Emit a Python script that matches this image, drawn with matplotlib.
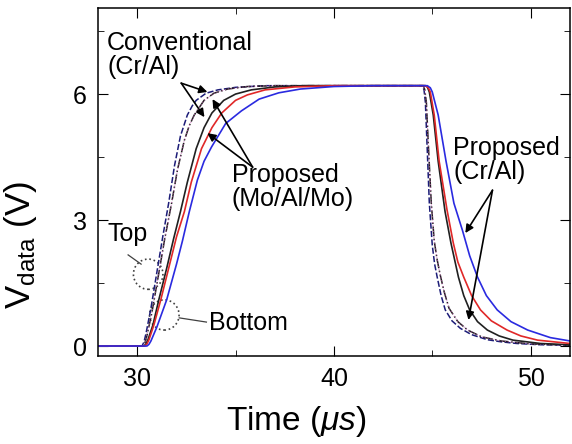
import matplotlib
matplotlib.use("Agg")
import matplotlib.pyplot as plt
from matplotlib.patches import Ellipse
from matplotlib.ticker import MultipleLocator

plt.rcParams['font.family'] = ['Liberation Sans', 'DejaVu Sans']
plt.rcParams['mathtext.fontset'] = 'custom'
plt.rcParams['mathtext.rm'] = 'Liberation Sans'
plt.rcParams['mathtext.it'] = 'Liberation Sans:italic'

# Conventional (Cr/Al), top
conv_top_t = [28, 30.25, 30.35, 30.45, 30.7, 31.0, 31.3, 31.6, 31.9, 32.2, 32.55, 32.8, 33.0, 33.5, 34.1, 35.0, 36.5,
              44.5, 44.58, 44.65, 44.75, 44.85, 45.0, 45.12, 45.25, 45.45, 45.66, 46.0, 46.43, 47.0, 47.8, 48.5, 49.3, 50.5, 52]
conv_top_v = [0, 0, 0.1, 0.3, 0.9, 1.75, 2.6, 3.4, 4.3, 5.0, 5.5, 5.72, 5.85, 6.02, 6.1, 6.16, 6.2,
              6.2, 6.1, 5.8, 4.6, 3.4, 2.4, 1.95, 1.64, 1.2, 0.86, 0.6, 0.42, 0.27, 0.15, 0.1, 0.06, 0.03, 0.02]

# Conventional (Cr/Al), bottom
conv_bot_t = [28, 30.3, 30.4, 30.5, 30.75, 31.05, 31.4, 31.75, 32.05, 32.4, 32.65, 32.9, 33.4, 33.9, 34.6, 35.6, 37,
              44.55, 44.62, 44.7, 44.82, 44.95, 45.1, 45.25, 45.4, 45.6, 45.85, 46.3, 46.8, 47.5, 48.5, 50, 52]
conv_bot_v = [0, 0, 0.08, 0.25, 0.8, 1.6, 2.55, 3.4, 4.2, 4.9, 5.25, 5.5, 5.85, 6.02, 6.12, 6.18, 6.2,
              6.2, 6.1, 5.8, 4.6, 3.4, 2.5, 2.05, 1.7, 1.3, 0.9, 0.58, 0.38, 0.22, 0.12, 0.05, 0.02]

# Proposed (Mo/Al/Mo), top
mo_top_t = [28, 30.35, 30.45, 30.55, 30.8, 31.1, 31.5, 31.85, 32.2, 32.55, 33.0, 33.4, 33.8, 34.4, 35.0, 35.8, 37, 38.5,
            44.65, 44.75, 44.85, 45.05, 45.3, 45.65, 45.95, 46.33, 46.6, 46.9, 47.3, 47.8, 48.4, 49.1, 50.5, 52]
mo_top_v = [0, 0, 0.05, 0.15, 0.5, 1.1, 1.85, 2.55, 3.2, 3.9, 4.7, 5.2, 5.55, 5.85, 6.0, 6.1, 6.17, 6.2,
            6.2, 6.17, 6.05, 5.5, 4.4, 3.2, 2.45, 1.64, 1.2, 0.86, 0.58, 0.38, 0.24, 0.14, 0.06, 0.03]

# Proposed (Mo/Al/Mo), bottom
mo_bot_t = [28, 30.4, 30.5, 30.6, 30.85, 31.2, 31.6, 32.0, 32.4, 32.75, 33.27, 33.8, 34.3, 35.0, 35.6, 36.5, 38, 40,
            44.65, 44.8, 44.9, 45.1, 45.35, 45.75, 46.07, 46.3, 46.6, 47.0, 47.45, 48.0, 48.8, 49.5, 50.35, 52]
mo_bot_v = [0, 0, 0.05, 0.15, 0.5, 1.1, 1.85, 2.6, 3.2, 3.9, 4.7, 5.2, 5.55, 5.85, 5.98, 6.1, 6.17, 6.2,
            6.2, 6.15, 6.05, 5.5, 4.4, 3.24, 2.45, 2.0, 1.64, 1.2, 0.86, 0.6, 0.38, 0.24, 0.14, 0.06]

# Proposed (Cr/Al)
cr_t = [28, 30.5, 30.6, 30.7, 31.0, 31.5, 32.0, 32.3, 32.65, 33.06, 33.4, 33.78, 34.5, 35.3, 36.2, 37.2, 38.3, 40, 42,
        44.75, 44.9, 45.0, 45.3, 45.7, 46.1, 46.53, 46.9, 47.3, 47.75, 48.3, 49.0, 49.85, 51, 52]
cr_v = [0, 0, 0.04, 0.12, 0.45, 1.1, 1.95, 2.5, 3.2, 3.95, 4.4, 4.74, 5.3, 5.6, 5.88, 6.03, 6.12, 6.18, 6.2,
        6.2, 6.15, 6.05, 5.5, 4.4, 3.4, 2.76, 2.15, 1.64, 1.2, 0.86, 0.58, 0.38, 0.2, 0.12]

fig = plt.figure(figsize=(5.72, 4.44), dpi=100)
ax = fig.add_axes([0.171, 0.198, 0.8255, 0.784])

ax.plot(conv_top_t, conv_top_v, color='#1c1c78', lw=1.1, ls=(0, (4, 1.5)))
ax.plot(conv_bot_t, conv_bot_v, color='#202020', lw=1.1, ls='-.')
ax.plot(conv_bot_t, conv_bot_v, color='#d060c0', lw=0.8, ls=':', alpha=0.7)
ax.plot(mo_top_t, mo_top_v, color='#202020', lw=1.2)
ax.plot(mo_bot_t, mo_bot_v, color='#e02828', lw=1.2)
ax.plot(cr_t, cr_v, color='#2a2ae0', lw=1.2)

ax.set_xlim(28, 52)
ax.set_ylim(-0.24, 8.05)
ax.xaxis.set_major_locator(MultipleLocator(10))
ax.xaxis.set_minor_locator(MultipleLocator(5))
ax.yaxis.set_major_locator(MultipleLocator(3))
ax.yaxis.set_minor_locator(MultipleLocator(1.5))
ax.tick_params(which='both', direction='in', top=True, right=True, labelsize=18, pad=8)
ax.tick_params(which='major', length=7)
ax.tick_params(which='minor', length=4)
for s in ax.spines.values():
    s.set_linewidth(1.1)

ax.set_xlabel(r'Time ($\mathit{\mu s}$)', fontsize=24)
ax.xaxis.set_label_coords(0.42, -0.138)
ax.set_ylabel(r'V$_{\mathregular{data}}$ (V)', fontsize=25)
ax.yaxis.set_label_coords(-0.125, 0.32)

arrow = dict(arrowstyle='-|>', color='k', lw=1.2, mutation_scale=12, shrinkA=0, shrinkB=0)

ax.text(28.47, 7.5, 'Conventional\n(Cr/Al)', fontsize=18, va='top', ha='left', linespacing=1.0)
ax.annotate('', xy=(33.57, 6.05), xytext=(32.24, 6.26), arrowprops=arrow)
ax.annotate('', xy=(33.42, 5.45), xytext=(32.24, 6.26), arrowprops=arrow)

ax.text(34.8, 4.35, 'Proposed\n(Mo/Al/Mo)', fontsize=18, va='top', ha='left', linespacing=1.0)
ax.annotate('', xy=(33.83, 5.88), xytext=(35.87, 4.26), arrowprops=arrow)
ax.annotate('', xy=(33.57, 5.07), xytext=(35.87, 4.26), arrowprops=arrow)

ax.text(46.07, 5.0, 'Proposed\n(Cr/Al)', fontsize=18, va='top', ha='left', linespacing=1.0)
ax.annotate('', xy=(46.68, 2.69), xytext=(48.06, 3.71), arrowprops=arrow)
ax.annotate('', xy=(46.84, 0.62), xytext=(48.06, 3.71), arrowprops=arrow)

ax.text(28.47, 2.95, 'Top', fontsize=18, va='top', ha='left')
ax.add_patch(Ellipse((30.56, 1.71), 1.5, 0.72, fill=False, ls=':', lw=1.2, color='#404040'))
ax.plot([29.54, 30.2], [2.17, 1.95], color='#404040', lw=0.9)

ax.text(33.67, 0.55, 'Bottom', fontsize=18, va='center', ha='left')
ax.add_patch(Ellipse((31.38, 0.74), 1.5, 0.72, fill=False, ls=':', lw=1.2, color='#404040'))
ax.plot([32.14, 33.52], [0.67, 0.57], color='#404040', lw=0.9)

fig.savefig('out.png', dpi=100)
